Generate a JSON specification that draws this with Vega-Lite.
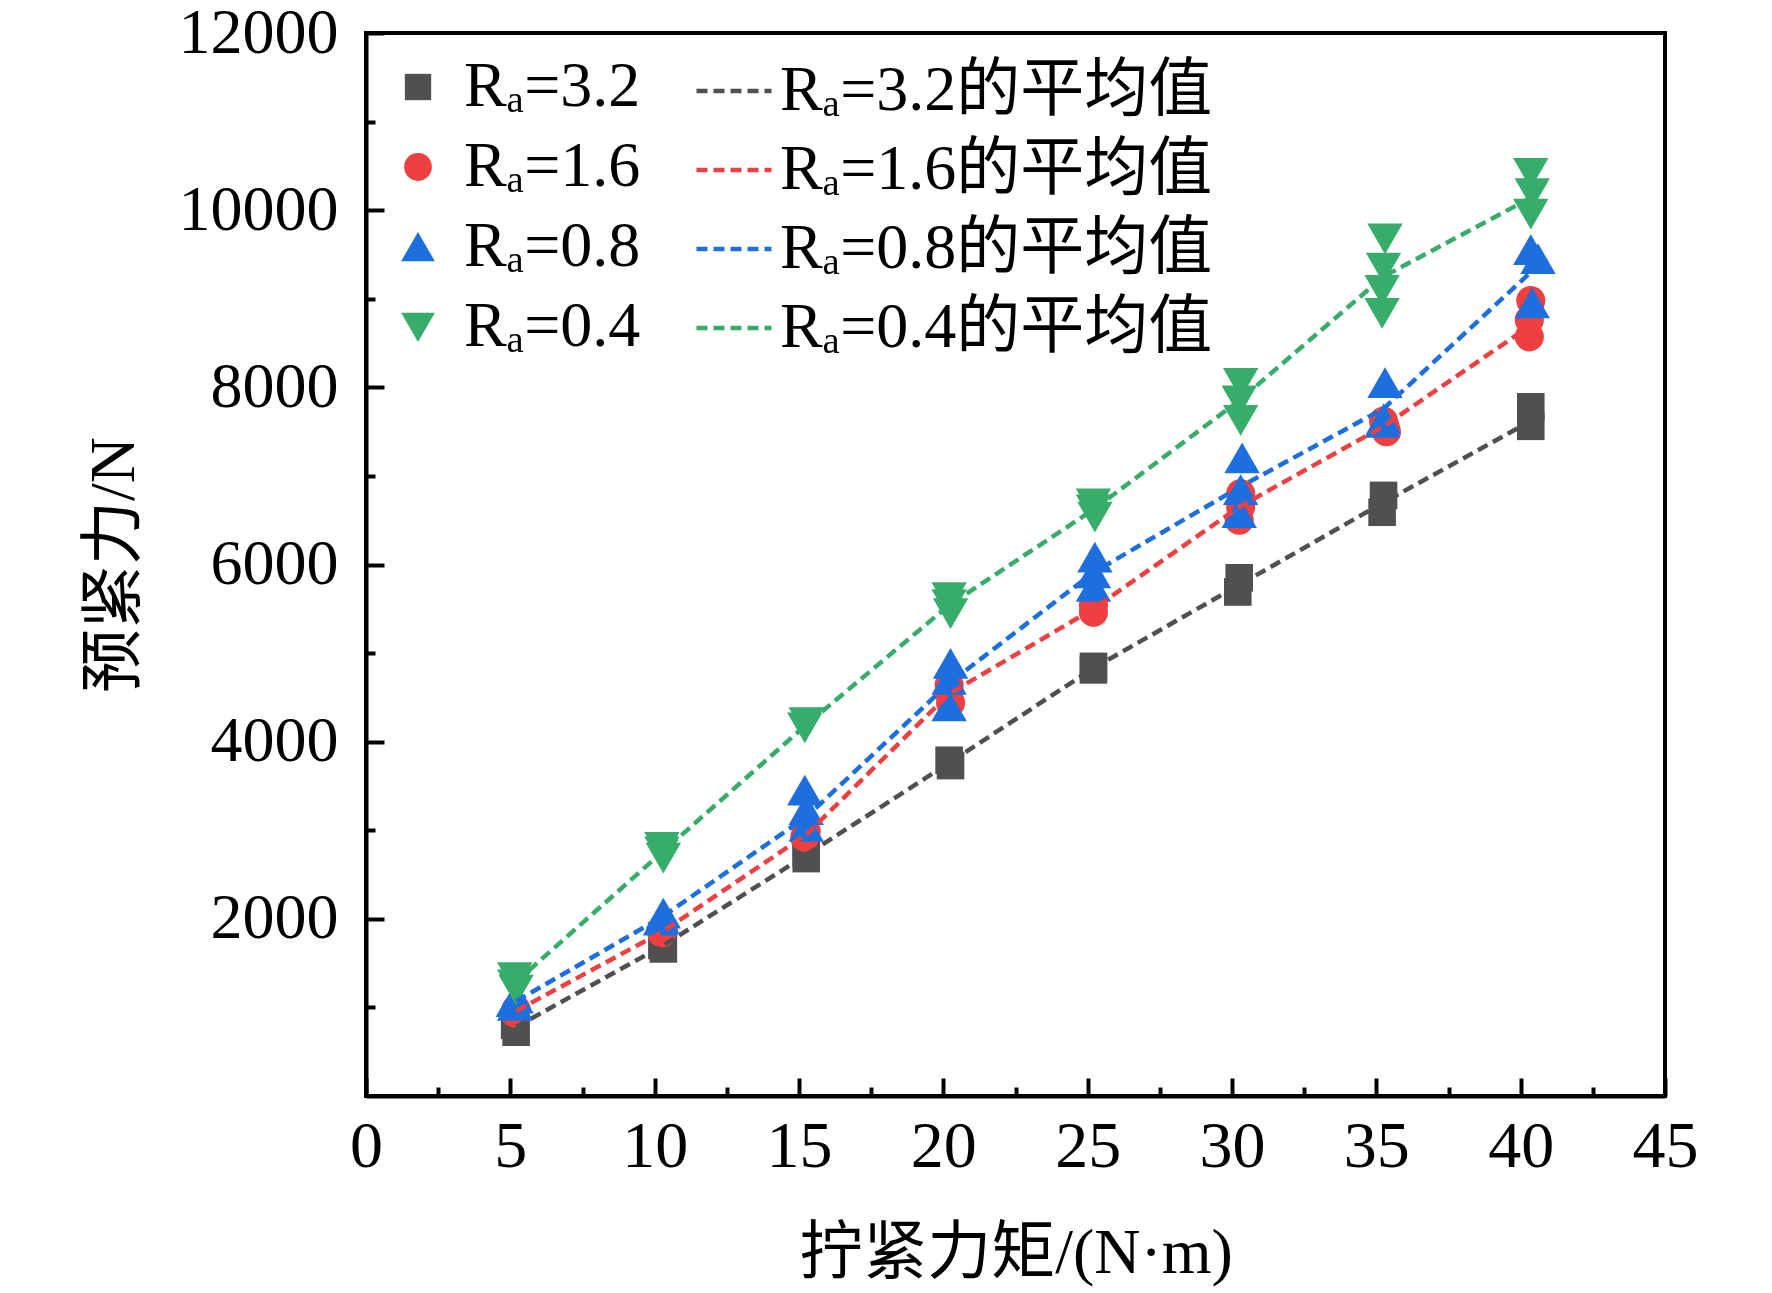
{
  "$schema": "https://vega.github.io/schema/vega-lite/v6.json",
  "width": 1299,
  "height": 1063,
  "autosize": {"type": "none"},
  "padding": {"left": 366, "top": 33, "right": 107, "bottom": 197},
  "background": "white",
  "datasets": {
    "points": [
      {"Ra": "Rₐ=3.2", "torque": 5.15, "force": 800},
      {"Ra": "Rₐ=3.2", "torque": 5.2, "force": 720},
      {"Ra": "Rₐ=3.2", "torque": 10.25, "force": 1700},
      {"Ra": "Rₐ=3.2", "torque": 10.3, "force": 1660},
      {"Ra": "Rₐ=3.2", "torque": 15.25, "force": 2740},
      {"Ra": "Rₐ=3.2", "torque": 15.25, "force": 2680},
      {"Ra": "Rₐ=3.2", "torque": 20.2, "force": 3790},
      {"Ra": "Rₐ=3.2", "torque": 20.25, "force": 3730},
      {"Ra": "Rₐ=3.2", "torque": 25.2, "force": 4850},
      {"Ra": "Rₐ=3.2", "torque": 25.2, "force": 4810},
      {"Ra": "Rₐ=3.2", "torque": 30.25, "force": 5850},
      {"Ra": "Rₐ=3.2", "torque": 30.2, "force": 5690},
      {"Ra": "Rₐ=3.2", "torque": 35.25, "force": 6780},
      {"Ra": "Rₐ=3.2", "torque": 35.2, "force": 6590},
      {"Ra": "Rₐ=3.2", "torque": 40.35, "force": 7780},
      {"Ra": "Rₐ=3.2", "torque": 40.35, "force": 7560},
      {"Ra": "Rₐ=1.6", "torque": 5.15, "force": 940},
      {"Ra": "Rₐ=1.6", "torque": 5.2, "force": 980},
      {"Ra": "Rₐ=1.6", "torque": 10.25, "force": 1840},
      {"Ra": "Rₐ=1.6", "torque": 10.3, "force": 1880},
      {"Ra": "Rₐ=1.6", "torque": 15.2, "force": 2920},
      {"Ra": "Rₐ=1.6", "torque": 15.25, "force": 2990},
      {"Ra": "Rₐ=1.6", "torque": 20.2, "force": 4640},
      {"Ra": "Rₐ=1.6", "torque": 20.25, "force": 4440},
      {"Ra": "Rₐ=1.6", "torque": 20.2, "force": 4560},
      {"Ra": "Rₐ=1.6", "torque": 25.2, "force": 5460},
      {"Ra": "Rₐ=1.6", "torque": 25.2, "force": 5540},
      {"Ra": "Rₐ=1.6", "torque": 30.3, "force": 6800},
      {"Ra": "Rₐ=1.6", "torque": 30.25, "force": 6500},
      {"Ra": "Rₐ=1.6", "torque": 30.3, "force": 6650},
      {"Ra": "Rₐ=1.6", "torque": 35.3, "force": 7560},
      {"Ra": "Rₐ=1.6", "torque": 35.35, "force": 7500},
      {"Ra": "Rₐ=1.6", "torque": 35.25, "force": 7620},
      {"Ra": "Rₐ=1.6", "torque": 40.35, "force": 8980},
      {"Ra": "Rₐ=1.6", "torque": 40.3, "force": 8760},
      {"Ra": "Rₐ=1.6", "torque": 40.3, "force": 8570},
      {"Ra": "Rₐ=0.8", "torque": 5.15, "force": 1020},
      {"Ra": "Rₐ=0.8", "torque": 5.2, "force": 1100},
      {"Ra": "Rₐ=0.8", "torque": 5.1, "force": 1060},
      {"Ra": "Rₐ=0.8", "torque": 10.25, "force": 2000},
      {"Ra": "Rₐ=0.8", "torque": 10.3, "force": 2060},
      {"Ra": "Rₐ=0.8", "torque": 10.2, "force": 1980},
      {"Ra": "Rₐ=0.8", "torque": 15.2, "force": 3450},
      {"Ra": "Rₐ=0.8", "torque": 15.25, "force": 3230},
      {"Ra": "Rₐ=0.8", "torque": 15.25, "force": 3040},
      {"Ra": "Rₐ=0.8", "torque": 20.25, "force": 4880},
      {"Ra": "Rₐ=0.8", "torque": 20.2, "force": 4700},
      {"Ra": "Rₐ=0.8", "torque": 20.2, "force": 4400},
      {"Ra": "Rₐ=0.8", "torque": 25.25, "force": 6080},
      {"Ra": "Rₐ=0.8", "torque": 25.2, "force": 5900},
      {"Ra": "Rₐ=0.8", "torque": 25.2, "force": 5750},
      {"Ra": "Rₐ=0.8", "torque": 30.35, "force": 7200},
      {"Ra": "Rₐ=0.8", "torque": 30.3, "force": 6840},
      {"Ra": "Rₐ=0.8", "torque": 30.25, "force": 6580},
      {"Ra": "Rₐ=0.8", "torque": 35.3, "force": 8050},
      {"Ra": "Rₐ=0.8", "torque": 35.25, "force": 7640},
      {"Ra": "Rₐ=0.8", "torque": 35.2, "force": 7600},
      {"Ra": "Rₐ=0.8", "torque": 40.35, "force": 9550},
      {"Ra": "Rₐ=0.8", "torque": 40.6, "force": 9450},
      {"Ra": "Rₐ=0.8", "torque": 40.4, "force": 8950},
      {"Ra": "Rₐ=0.4", "torque": 5.15, "force": 1340},
      {"Ra": "Rₐ=0.4", "torque": 5.2, "force": 1200},
      {"Ra": "Rₐ=0.4", "torque": 5.15, "force": 1260},
      {"Ra": "Rₐ=0.4", "torque": 10.25, "force": 2810},
      {"Ra": "Rₐ=0.4", "torque": 10.3, "force": 2690},
      {"Ra": "Rₐ=0.4", "torque": 10.25, "force": 2760},
      {"Ra": "Rₐ=0.4", "torque": 15.25, "force": 4220},
      {"Ra": "Rₐ=0.4", "torque": 15.2, "force": 4160},
      {"Ra": "Rₐ=0.4", "torque": 20.2, "force": 5630},
      {"Ra": "Rₐ=0.4", "torque": 20.25, "force": 5450},
      {"Ra": "Rₐ=0.4", "torque": 20.2, "force": 5550},
      {"Ra": "Rₐ=0.4", "torque": 25.2, "force": 6690},
      {"Ra": "Rₐ=0.4", "torque": 25.25, "force": 6540},
      {"Ra": "Rₐ=0.4", "torque": 25.2, "force": 6620},
      {"Ra": "Rₐ=0.4", "torque": 30.3, "force": 8050},
      {"Ra": "Rₐ=0.4", "torque": 30.25, "force": 7850},
      {"Ra": "Rₐ=0.4", "torque": 30.3, "force": 7630},
      {"Ra": "Rₐ=0.4", "torque": 35.3, "force": 9680},
      {"Ra": "Rₐ=0.4", "torque": 35.25, "force": 9350},
      {"Ra": "Rₐ=0.4", "torque": 35.2, "force": 9100},
      {"Ra": "Rₐ=0.4", "torque": 35.2, "force": 8840},
      {"Ra": "Rₐ=0.4", "torque": 40.35, "force": 10420},
      {"Ra": "Rₐ=0.4", "torque": 40.4, "force": 10190},
      {"Ra": "Rₐ=0.4", "torque": 40.35, "force": 9960}
    ],
    "means": [
      {"mean": "Rₐ=3.2的平均值", "torque": 5.2, "force": 780},
      {"mean": "Rₐ=3.2的平均值", "torque": 10.25, "force": 1690},
      {"mean": "Rₐ=3.2的平均值", "torque": 15.25, "force": 2720},
      {"mean": "Rₐ=3.2的平均值", "torque": 20.2, "force": 3760},
      {"mean": "Rₐ=3.2的平均值", "torque": 25.2, "force": 4830},
      {"mean": "Rₐ=3.2的平均值", "torque": 30.25, "force": 5770},
      {"mean": "Rₐ=3.2的平均值", "torque": 35.25, "force": 6700},
      {"mean": "Rₐ=3.2的平均值", "torque": 40.35, "force": 7620},
      {"mean": "Rₐ=1.6的平均值", "torque": 5.2, "force": 960},
      {"mean": "Rₐ=1.6的平均值", "torque": 10.25, "force": 1850},
      {"mean": "Rₐ=1.6的平均值", "torque": 15.25, "force": 2950},
      {"mean": "Rₐ=1.6的平均值", "torque": 20.2, "force": 4540},
      {"mean": "Rₐ=1.6的平均值", "torque": 25.2, "force": 5500},
      {"mean": "Rₐ=1.6的平均值", "torque": 30.25, "force": 6650},
      {"mean": "Rₐ=1.6的平均值", "torque": 35.25, "force": 7560},
      {"mean": "Rₐ=1.6的平均值", "torque": 40.35, "force": 8700},
      {"mean": "Rₐ=0.8的平均值", "torque": 5.2, "force": 1070},
      {"mean": "Rₐ=0.8的平均值", "torque": 10.25, "force": 2020},
      {"mean": "Rₐ=0.8的平均值", "torque": 15.25, "force": 3150},
      {"mean": "Rₐ=0.8的平均值", "torque": 20.2, "force": 4660},
      {"mean": "Rₐ=0.8的平均值", "torque": 25.2, "force": 5910},
      {"mean": "Rₐ=0.8的平均值", "torque": 30.25, "force": 6870},
      {"mean": "Rₐ=0.8的平均值", "torque": 35.25, "force": 7760},
      {"mean": "Rₐ=0.8的平均值", "torque": 40.35, "force": 9300},
      {"mean": "Rₐ=0.4的平均值", "torque": 5.2, "force": 1290},
      {"mean": "Rₐ=0.4的平均值", "torque": 10.25, "force": 2750},
      {"mean": "Rₐ=0.4的平均值", "torque": 15.25, "force": 4190},
      {"mean": "Rₐ=0.4的平均值", "torque": 20.2, "force": 5540},
      {"mean": "Rₐ=0.4的平均值", "torque": 25.2, "force": 6620},
      {"mean": "Rₐ=0.4的平均值", "torque": 30.25, "force": 7850},
      {"mean": "Rₐ=0.4的平均值", "torque": 35.25, "force": 9250},
      {"mean": "Rₐ=0.4的平均值", "torque": 40.35, "force": 10140}
    ]
  },
  "layer": [
    {
      "data": {"name": "points"},
      "mark": {"type": "point", "filled": true, "opacity": 1, "size": 900},
      "encoding": {
        "x": {
          "field": "torque",
          "type": "quantitative",
          "scale": {"domain": [0, 45], "nice": false, "zero": false},
          "axis": {
            "orient": "bottom",
            "values": [0, 5, 10, 15, 20, 25, 30, 35, 40, 45],
            "format": "d",
            "tickSize": -18,
            "labelPadding": 36,
            "title": "拧紧力矩/(N·m)",
            "titlePadding": 42
          }
        },
        "y": {
          "field": "force",
          "type": "quantitative",
          "scale": {"domain": [0, 12000], "nice": false},
          "axis": {
            "orient": "left",
            "values": [2000, 4000, 6000, 8000, 10000, 12000],
            "format": "d",
            "tickSize": -18,
            "labelPadding": 46,
            "labelFontSize": 64,
            "title": "预紧力/N",
            "titlePadding": 32
          }
        },
        "shape": {
          "field": "Ra",
          "type": "nominal",
          "scale": {
            "domain": ["Rₐ=3.2", "Rₐ=1.6", "Rₐ=0.8", "Rₐ=0.4"],
            "range": [
              "M-0.92,-0.92L0.92,-0.92L0.92,0.92L-0.92,0.92Z",
              "M0.97,0A0.97,0.97 0 1,1 -0.97,0A0.97,0.97 0 1,1 0.97,0Z",
              "M0,-1.05L1.18,1L-1.18,1Z",
              "M0,1.05L1.18,-1L-1.18,-1Z"
            ]
          },
          "legend": {
            "orient": "none",
            "legendX": 20,
            "legendY": 22,
            "title": null,
            "symbolSize": 820,
            "labelOffset": 14,
            "rowPadding": 16
          }
        },
        "fill": {
          "field": "Ra",
          "type": "nominal",
          "scale": {
            "domain": ["Rₐ=3.2", "Rₐ=1.6", "Rₐ=0.8", "Rₐ=0.4"],
            "range": ["#505050", "#EE4040", "#1D6FDD", "#38AD6B"]
          },
          "legend": {
            "orient": "none",
            "legendX": 20,
            "legendY": 22,
            "title": null,
            "symbolSize": 820,
            "labelOffset": 14,
            "rowPadding": 16
          }
        }
      }
    },
    {
      "data": {"name": "means"},
      "mark": {"type": "point", "opacity": 0},
      "encoding": {
        "x": {
          "field": "torque",
          "type": "quantitative",
          "scale": {"domain": [0, 45], "nice": false, "zero": false},
          "axis": {
            "orient": "bottom",
            "values": [2.5, 7.5, 12.5, 17.5, 22.5, 27.5, 32.5, 37.5, 42.5],
            "tickSize": -9,
            "labels": false,
            "domain": false,
            "title": null
          }
        },
        "y": {
          "field": "force",
          "type": "quantitative",
          "scale": {"domain": [0, 12000], "nice": false},
          "axis": {
            "orient": "left",
            "values": [1000, 3000, 5000, 7000, 9000, 11000],
            "tickSize": -9,
            "labels": false,
            "domain": false,
            "title": null
          }
        }
      }
    },
    {
      "data": {"name": "means"},
      "mark": {"type": "line", "strokeDash": [11, 6], "strokeWidth": 4.5},
      "encoding": {
        "x": {"field": "torque", "type": "quantitative", "scale": {"domain": [0, 45], "nice": false, "zero": false}, "axis": null},
        "y": {"field": "force", "type": "quantitative", "scale": {"domain": [0, 12000], "nice": false}, "axis": null},
        "stroke": {
          "field": "mean",
          "type": "nominal",
          "scale": {
            "domain": ["Rₐ=3.2的平均值", "Rₐ=1.6的平均值", "Rₐ=0.8的平均值", "Rₐ=0.4的平均值"],
            "range": ["#505050", "#EE4040", "#1D6FDD", "#38AD6B"]
          },
          "legend": {
            "orient": "none",
            "legendX": 328,
            "legendY": 18,
            "title": null,
            "symbolType": "stroke",
            "symbolSize": 5625,
            "symbolStrokeWidth": 4.5,
            "symbolDash": [11, 6],
            "labelOffset": 6,
            "rowPadding": 7
          }
        }
      }
    }
  ],
  "resolve": {"axis": {"x": "independent", "y": "independent"}},
  "config": {
    "view": {"stroke": "black", "strokeWidth": 4},
    "axis": {
      "grid": false,
      "domainColor": "black",
      "domainWidth": 4,
      "tickColor": "black",
      "tickWidth": 4,
      "labelFont": "Liberation Serif",
      "labelFontSize": 66,
      "labelColor": "black",
      "labelFlush": false,
      "labelOverlap": false,
      "titleFont": "Liberation Serif, Noto Sans CJK SC",
      "titleFontSize": 64,
      "titleFontWeight": "normal",
      "titleColor": "black"
    },
    "legend": {
      "labelFont": "Liberation Serif, Noto Sans CJK SC",
      "labelFontSize": 64,
      "labelColor": "black",
      "labelLimit": 0,
      "padding": 0,
      "symbolStrokeWidth": 0
    }
  }
}
